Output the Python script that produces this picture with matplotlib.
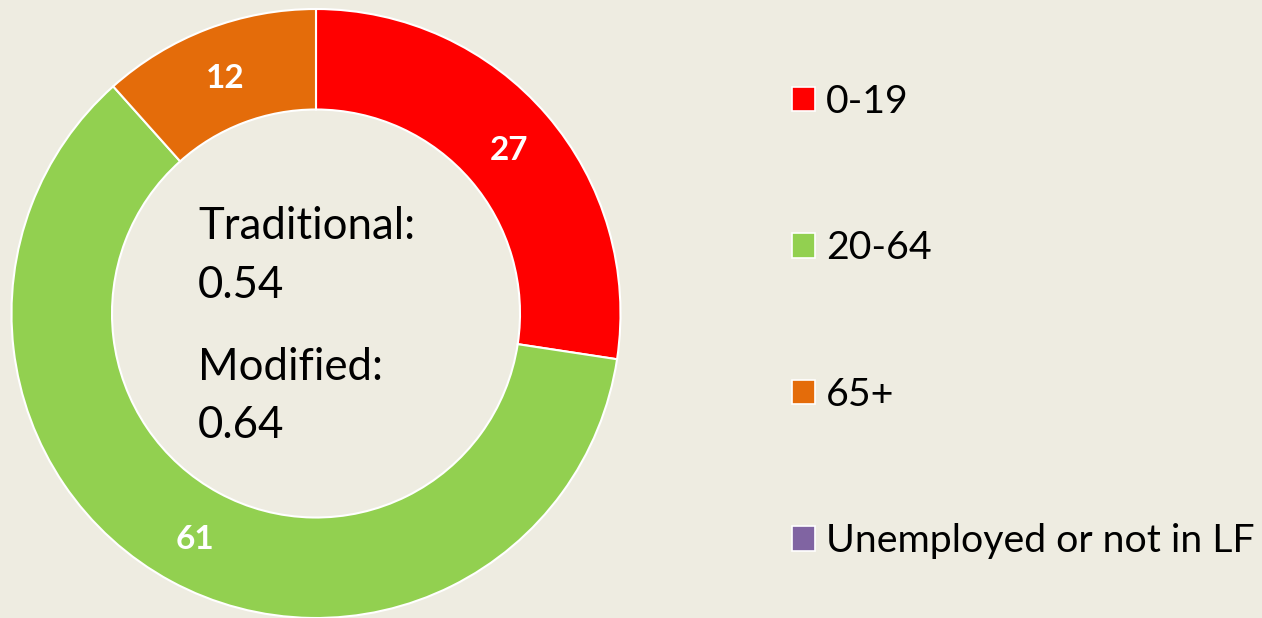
import matplotlib
matplotlib.use("Agg")
import matplotlib.pyplot as plt
from matplotlib.patches import Patch

categories = ["0-19", "20-64", "65+", "Unemployed or not in LF"]
values = [27.4, 61.0, 11.6, 0]
colors = ["#FF0000", "#92D050", "#E46C0A", "#8064A2"]
center_lines = ["Traditional:", "0.54", "Modified:", "0.64"]

BG = "#EEECE1"
W, H = 1262, 618
plt.rcParams['font.family'] = ['Lato', 'DejaVu Sans']
fig = plt.figure(figsize=(W / 100, H / 100), dpi=100, facecolor=BG)
ax = fig.add_axes([0, 0, 1, 1])
ax.set_facecolor(BG)

pie_vals = [v for v in values if v > 0]
pie_cols = [c for v, c in zip(values, colors) if v > 0]
total = sum(pie_vals)

cx, cy = 316, H - 313.5
R = 304.5
ring = 100.5
wedges, texts, autotexts = ax.pie(
    pie_vals, colors=pie_cols, startangle=90, counterclock=False,
    radius=R, center=(cx, cy),
    wedgeprops=dict(width=ring, edgecolor="white", linewidth=1.5),
    autopct=lambda p: f"{p * total / 100:.0f}",
    pctdistance=(R - ring / 2) / R,
    textprops=dict(color="white", fontsize=24, fontweight="bold"),
)
for t in autotexts:
    t.set_color("white")
    t.set_va("center_baseline")

ax.set_xlim(0, W)
ax.set_ylim(0, H)
ax.set_aspect("equal")
ax.axis("off")

baselines = [239, 298, 380, 438]
for line, b in zip(center_lines, baselines):
    ax.text(198, H - b, line, fontsize=31.5, color="black", ha="left", va="baseline")

handles = [Patch(facecolor=c, edgecolor="white", linewidth=1.2) for c in colors]
leg = ax.legend(handles, categories, loc="upper left",
                bbox_to_anchor=(792 / W, 1 - 84 / H),
                frameon=False, fontsize=28.3, labelspacing=2.81,
                handlelength=0.585, handleheight=0.585, handletextpad=0.28,
                borderaxespad=0, borderpad=0)

fig.savefig("out.png", dpi=100, facecolor=BG)
